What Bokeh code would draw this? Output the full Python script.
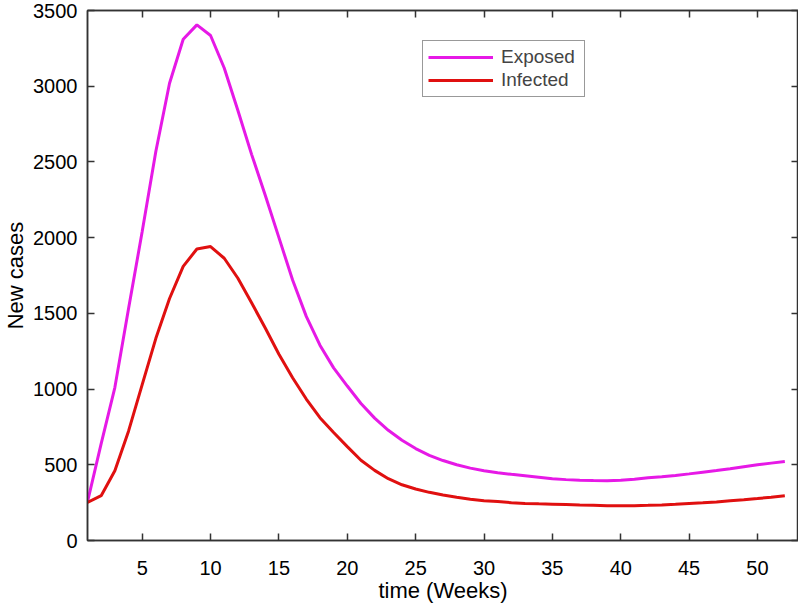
from bokeh.plotting import figure
from bokeh.models import FixedTicker, LinearAxis, Legend, LegendItem, Range1d, CustomJSTickFormatter
from bokeh.embed import file_html
from bokeh.resources import INLINE

weeks = list(range(1, 53))
exposed = [255, 640, 1010, 1530, 2040, 2570, 3020, 3310, 3405, 3335,
           3120, 2840, 2550, 2280, 2000, 1720, 1480, 1290, 1140, 1020,
           905, 808, 728, 662, 607, 562, 528, 500, 478, 461,
           448, 437, 428, 418, 408, 402, 398, 396, 395, 398,
           405, 415, 421, 430, 440, 451, 462, 474, 487, 500,
           511, 522]
infected = [252, 296, 460, 722, 1029, 1335, 1598, 1810, 1925, 1941,
            1864, 1732, 1570, 1403, 1230, 1075, 934, 811, 713, 620,
            530, 463, 408, 368, 340, 318, 300, 285, 272, 263,
            257, 250, 245, 242, 240, 237, 234, 232, 230, 229,
            230, 232, 235, 239, 244, 249, 255, 262, 269, 277,
            286, 296]
x_ticks = [5, 10, 15, 20, 25, 30, 35, 40, 45, 50]
y_ticks = [0, 500, 1000, 1500, 2000, 2500, 3000, 3500]

FONT = "Liberation Sans"
AX = "#333333"

p = figure(width=798, height=605, output_backend="svg", toolbar_location=None,
           x_range=Range1d(1, 53), y_range=Range1d(0, 3500),
           min_border_left=79, min_border_right=0, min_border_top=10,
           min_border_bottom=0)
p.grid.visible = False
p.outline_line_color = AX
p.outline_line_width = 1.5

p.xaxis.ticker = FixedTicker(ticks=x_ticks)
p.yaxis.ticker = FixedTicker(ticks=y_ticks)
p.xaxis.axis_label = "time (Weeks)"
p.yaxis.axis_label = "New cases"
for ax in (p.xaxis[0], p.yaxis[0]):
    ax.major_tick_in = 7
    ax.major_tick_out = 0
    ax.minor_tick_in = 0
    ax.minor_tick_out = 0
    ax.axis_line_color = AX
    ax.axis_line_width = 1.5
    ax.major_tick_line_color = AX
    ax.major_tick_line_width = 1.5
    ax.major_label_text_font = FONT
    ax.major_label_text_font_size = "20px"
    ax.major_label_text_color = "black"
    ax.axis_label_text_font = FONT
    ax.axis_label_text_font_size = "22px"
    ax.axis_label_text_font_style = "normal"
    ax.axis_label_text_color = "black"
p.xaxis.major_label_standoff = 20
p.xaxis.axis_label_standoff = 0
p.yaxis.major_label_standoff = 10
p.yaxis.axis_label_standoff = 2

blank = CustomJSTickFormatter(code="return '';")
for loc, tk in (("above", x_ticks), ("right", y_ticks)):
    a = LinearAxis(ticker=FixedTicker(ticks=tk), formatter=blank,
                   major_tick_in=7, major_tick_out=0,
                   minor_tick_in=0, minor_tick_out=0, axis_line_color=AX,
                   axis_line_width=1.5, major_tick_line_color=AX,
                   major_tick_line_width=1.5, major_label_standoff=0,
                   major_label_text_font_size="1px")
    p.add_layout(a, loc)

r1 = p.line(weeks, exposed, line_color="#e619e6", line_width=3)
r2 = p.line(weeks, infected, line_color="#e01010", line_width=3)

legend = Legend(items=[LegendItem(label="Exposed", renderers=[r1]),
                       LegendItem(label="Infected", renderers=[r2])],
                location=(335, 443), margin=0, padding=5, spacing=1,
                glyph_width=65, glyph_height=20, label_height=20,
                label_width=78, label_standoff=8,
                label_text_font=FONT, label_text_font_size="19px",
                border_line_color=AX, border_line_width=1.2,
                background_fill_alpha=1.0)
p.add_layout(legend, "center")

open("out.html", "w").write(file_html(p, INLINE))
